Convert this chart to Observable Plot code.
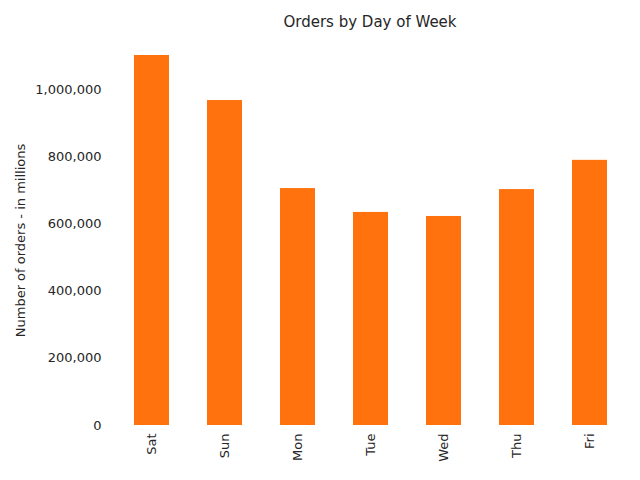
<!DOCTYPE html>
<html><head><meta charset="utf-8">
<script src="https://cdn.jsdelivr.net/npm/d3@7"></script>
<script src="https://cdn.jsdelivr.net/npm/@observablehq/plot@0.6"></script>
<style>
body{margin:0;background:#fff;font-family:"DejaVu Sans",sans-serif;}
#title{height:40px;line-height:44px;text-align:center;font-size:15px;color:#262626;padding-left:100px;box-sizing:border-box;}
</style></head><body>
<div id="title">Orders by Day of Week</div>
<div id="chart"></div>
<script>
const days = ["Sat","Sun","Mon","Tue","Wed","Thu","Fri"];
const orders = [1101000, 967000, 705000, 634000, 622000, 702000, 789000];
const data = days.map((d, i) => ({day: d, orders: orders[i]}));

const chart = Plot.plot({
  width: 640, height: 440,
  marginLeft: 115, marginRight: 14, marginTop: 15, marginBottom: 55,
  style: {fontFamily: "DejaVu Sans", fontSize: "13px", color: "#262626", background: "white"},
  x: {domain: days, paddingInner: 0.52, paddingOuter: 0.25, label: null, tickSize: 0, tickRotate: -90, tickPadding: 8},
  y: {domain: [0, 1101000], ticks: [0,200000,400000,600000,800000,1000000], tickFormat: d3.format(","),
      tickSize: 0, tickPadding: 14, label: "Number of orders - in millions", labelAnchor: "center", labelArrow: "none", labelOffset: 100},
  marks: [
    Plot.barY(data, {x: "day", y: "orders", fill: "#ff720d"})
  ]
});
d3.select("#chart").append(() => chart);
</script>
</body></html>
